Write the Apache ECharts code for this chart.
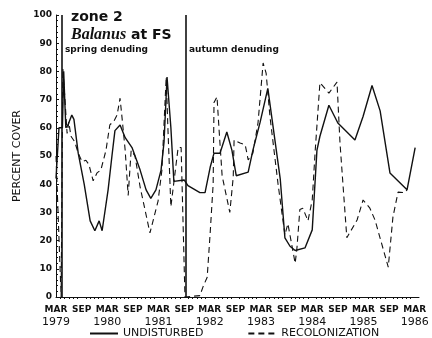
<!DOCTYPE html>
<html>
<head>
<meta charset="utf-8">
<script src="https://cdn.jsdelivr.net/npm/echarts@6/dist/echarts.min.js"></script>
<style>
  html, body { margin: 0; padding: 0; background: #fff; }
  #chart { width: 432px; height: 338px; }
</style>
</head>
<body>
<div id="chart"></div>
<script>
// months counted from MAR 1979 (0 = MAR 1979, 6 = SEP 1979 ...)
var undisturbedMonth = [0, 0.7, 1.5, 1.8, 2.3, 2.8, 3.7, 4.2, 5.2, 6.6, 8.0, 9.1, 10.1, 10.8, 12.2, 13.1, 13.8, 15.0, 16.2, 17.8, 19.7, 21.1, 22.2, 23.4, 24.6, 25.3, 26.0, 26.9, 27.6, 30.0, 30.9, 33.7, 34.9, 36.1, 37.0, 38.4, 40.0, 41.2, 42.2, 45.0, 46.1, 47.8, 49.6, 52.5, 53.6, 54.8, 56.0, 58.3, 60.0, 61.1, 61.8, 63.9, 66.0, 70.0, 71.9, 74.0, 75.9, 78.2, 82.2, 84.1];
var undisturbedCover = [42, 60, 60, 80, 60, 61, 64.5, 63, 51, 40, 27, 23.5, 27, 23.5, 38, 50, 59, 61, 56.5, 53, 45, 38, 35, 38, 45, 55, 78, 60, 41, 41.5, 39.5, 37, 37, 46, 51, 51, 58.5, 52, 43, 44.3, 52, 62, 74, 42, 21, 18, 16.5, 17.4, 23.8, 52, 57, 68, 61.7, 55.7, 64, 75, 66, 44, 38, 53];

var recolMonth = [0, 1.2, 1.6, 2.1, 2.6, 3.0, 3.5, 4.4, 5.2, 6.1, 7.0, 7.7, 8.7, 9.6, 10.5, 11.7, 12.6, 13.6, 14.3, 15.0, 15.5, 16.2, 16.9, 17.6, 18.5, 19.7, 22.0, 23.9, 24.8, 25.8, 26.2, 26.9, 28.6, 29.3, 30.2, 33.7, 34.4, 35.4, 36.1, 36.8, 37.0, 37.7, 38.2, 38.9, 40.7, 41.5, 41.7, 43.1, 44.3, 45.0, 46.1, 47.3, 48.5, 49.2, 50.1, 52.0, 53.6, 54.3, 56.0, 56.4, 57.1, 57.8, 59.0, 60.0, 60.7, 61.8, 63.9, 65.8, 66.5, 68.1, 70.5, 71.9, 73.5, 74.7, 77.8, 78.9, 80.1, 81.7, 82.2];
var recolCover = [50, 0, 81, 70, 58, 62, 57, 55, 51, 48, 48.5, 47, 41.2, 44, 45, 52, 61, 62.5, 64.5, 70.5, 63, 52, 36, 52, 50, 39, 22.7, 34, 45, 78, 60, 32, 53, 53, 0, 0.5, 3.5, 7, 22.7, 40, 69, 71, 59, 43, 30, 42.5, 55.7, 54.6, 54, 48.6, 51, 61.7, 83, 79.4, 64, 40, 22, 26, 12, 17, 31, 31.5, 27, 34.4, 52, 76, 72.3, 76.2, 54.6, 21, 27.3, 34.4, 31.5, 27.3, 10.6, 28.4, 37.2, 37, 38];

var denudingMonth = [1.4, 30.3];
var denudingLabels = ['spring denuding', 'autumn denuding'];
var firstYear = 1979;

function pairs(xs, ys) {
    var out = [];
    for (var i = 0; i < xs.length; i++) {
        out.push([xs[i], ys[i]]);
    }
    return out;
}

var myChart = echarts.init(document.getElementById('chart'), null, {renderer: 'canvas'});
var font = 'DejaVu Sans';

var option = {
    animation: false,
    backgroundColor: '#fff',
    title: {
        left: 66,
        top: 3,
        text: '{z|zone 2}\n{b|Balanus}{a| at FS}',
        textStyle: {
            rich: {
                z: {fontFamily: font, fontSize: 14, color: '#111', lineHeight: 18},
                b: {fontFamily: 'Liberation Serif', fontStyle: 'italic', fontSize: 16, color: '#111', lineHeight: 18},
                a: {fontFamily: font, fontSize: 14, color: '#111', lineHeight: 18}
            }
        }
    },
    legend: {
        bottom: -6,
        left: 84,
        itemGap: 44,
        itemWidth: 28,
        itemHeight: 10,
        itemStyle: {opacity: 0},
        textStyle: {fontFamily: font, fontSize: 11, color: '#111'},
        data: ['UNDISTURBED', 'RECOLONIZATION']
    },
    grid: {
        left: 56,
        right: 13,
        top: 15,
        bottom: 41
    },
    xAxis: {
        type: 'value',
        min: 0,
        max: 85,
        interval: 6,
        splitLine: {show: false},
        axisLine: {lineStyle: {color: '#111', width: 1}},
        axisTick: {show: false},
        minorTick: {show: true, splitNumber: 6, length: 2, lineStyle: {color: '#111'}},
        axisLabel: {
            margin: 6,
            formatter: function (v) {
                if (v % 12 === 0) return '{m|MAR}\n{y|' + (firstYear + v / 12) + '}';
                if (v % 12 === 6) return '{m|SEP}';
                return '';
            },
            rich: {
                m: {fontFamily: font, fontSize: 9, fontWeight: 'bold', color: '#111', lineHeight: 13},
                y: {fontFamily: font, fontSize: 11, color: '#111', lineHeight: 13}
            }
        }
    },
    yAxis: {
        type: 'value',
        min: 0,
        max: 100,
        interval: 10,
        name: 'PERCENT COVER',
        nameLocation: 'middle',
        nameGap: 33,
        nameTextStyle: {fontFamily: font, fontSize: 11, color: '#111'},
        splitLine: {show: false},
        axisLine: {show: true, lineStyle: {color: '#111', width: 1}},
        axisTick: {show: true, inside: true, length: 3, lineStyle: {color: '#111'}},
        minorTick: {show: true, splitNumber: 5, length: 2, lineStyle: {color: '#111'}},
        axisLabel: {fontFamily: font, fontSize: 9, fontWeight: 'bold', color: '#111', margin: 4}
    },
    graphic: [
        {type: 'text', left: 65, top: 45, style: {text: denudingLabels[0], font: 'bold 9px "DejaVu Sans"', fill: '#111'}},
        {type: 'text', left: 189, top: 45, style: {text: denudingLabels[1], font: 'bold 9px "DejaVu Sans"', fill: '#111'}}
    ],
    series: [
        {
            name: 'UNDISTURBED',
            type: 'line',
            symbol: 'none',
            lineStyle: {color: '#111', width: 1.4},
            itemStyle: {color: '#111'},
            data: pairs(undisturbedMonth, undisturbedCover),
            markLine: {
                silent: true,
                symbol: ['none', 'none'],
                label: {show: false},
                lineStyle: {color: '#111', width: 1.6, type: 'solid'},
                data: denudingMonth.map(function (m) {
                    return {xAxis: m};
                })
            }
        },
        {
            name: 'RECOLONIZATION',
            type: 'line',
            symbol: 'none',
            lineStyle: {color: '#111', width: 1.1, type: [6, 4]},
            itemStyle: {color: '#111'},
            data: pairs(recolMonth, recolCover)
        }
    ]
};

myChart.setOption(option);
</script>
</body>
</html>
